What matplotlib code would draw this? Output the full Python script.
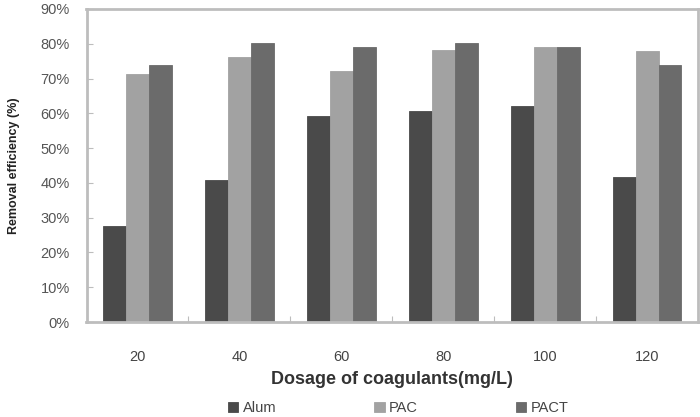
import matplotlib
matplotlib.use("Agg")
import matplotlib.pyplot as plt
import numpy as np
from matplotlib.ticker import FixedLocator, FuncFormatter

plt.rcParams['font.family'] = ['Liberation Sans', 'DejaVu Sans']

dosages = ["20", "40", "60", "80", "100", "120"]
alum = [27.6, 40.9, 59.3, 60.8, 62.2, 41.7]
pac = [71.2, 76.2, 72.1, 78.3, 79.0, 77.8]
pact = [73.8, 80.2, 79.0, 80.2, 79.0, 73.8]
series_names = ["Alum", "PAC", "PACT"]
colors = ["#4a4a4a", "#a2a2a2", "#6b6b6b"]
yticks = [0, 10, 20, 30, 40, 50, 60, 70, 80, 90]

fig = plt.figure(figsize=(7.0, 4.17), dpi=100)
ax = fig.add_axes([86.5/700, 1-322/417, (698-86.5)/700, (322-9)/417])

x = np.arange(len(dosages))
w = 0.225
for i, (vals, name, c) in enumerate(zip([alum, pac, pact], series_names, colors)):
    ax.bar(x + (i-1)*w, vals, width=w, color=c, edgecolor=c, linewidth=0.6, label=name)

ax.set_xlim(-0.5, len(dosages)-0.5)
ax.set_ylim(0, 90)
ax.set_yticks(yticks)
ax.yaxis.set_major_formatter(FuncFormatter(lambda v, p: f"{int(v)}%"))
ax.set_xticks(x)
ax.set_xticklabels(dosages)
ax.xaxis.set_minor_locator(FixedLocator(np.arange(0.5, len(dosages)-0.5, 1)))

for s in ax.spines.values():
    s.set_color("#bdbdbd")
    s.set_linewidth(2)

ax.tick_params(axis='y', direction='in', length=4, width=0.8, color="#bdbdbd",
               labelsize=10.5, labelcolor="#555555", pad=12)
ax.tick_params(axis='x', which='major', length=0, labelsize=10.5, labelcolor="#444444", pad=20)
ax.tick_params(axis='x', which='minor', direction='in', length=4, width=0.8, color="#bdbdbd")

ax.set_xlabel("Dosage of coagulants(mg/L)", fontsize=13, fontweight='bold', color="#333333", labelpad=5)
fig.text(0.02, 1-(322+9)/2/417, "Removal efficiency (%)", rotation=90,
         ha='center', va='center', fontsize=9, fontweight='bold', color="#222222")

handles, labels = ax.get_legend_handles_labels()
leg = fig.legend(handles, labels, loc='center', bbox_to_anchor=(0.569, 0.022), ncol=3,
                 frameon=False, fontsize=10.5, handlelength=0.7, handleheight=0.7,
                 handletextpad=0.3, columnspacing=6.73, borderpad=0.2)
for t in leg.get_texts():
    t.set_color("#444444")

fig.savefig("out.png", dpi=100)
